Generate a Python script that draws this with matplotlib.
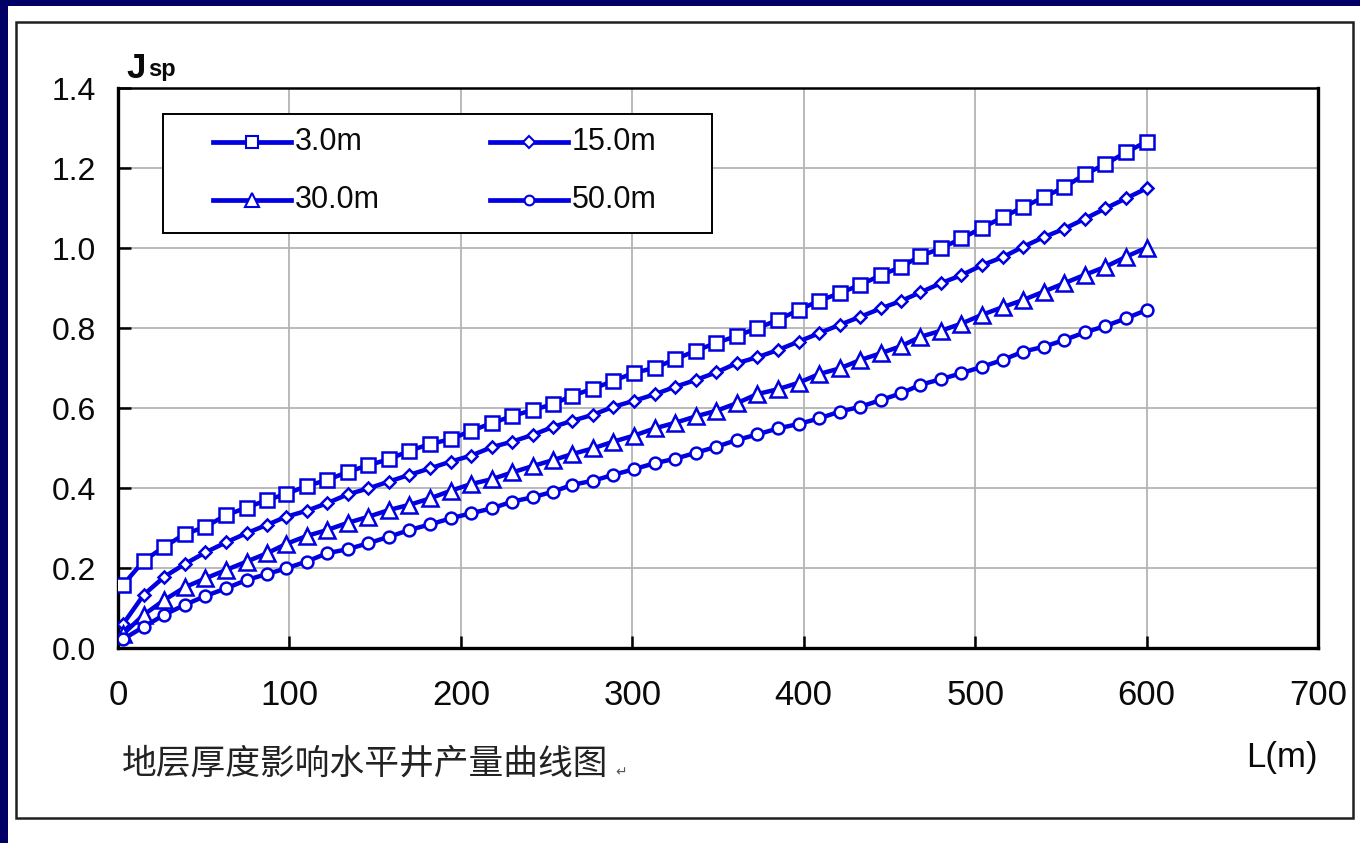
import matplotlib
matplotlib.use("Agg")
import matplotlib.pyplot as plt
from matplotlib.patches import Rectangle
from matplotlib.lines import Line2D

# ---------------- data ----------------
L = [3, 15, 27, 39, 51, 63, 75, 87, 98, 110, 122, 134, 146, 158, 170, 182, 194,
     206, 218, 230, 242, 254, 265, 277, 289, 301, 313, 325, 337, 349, 361, 373,
     385, 397, 409, 421, 433, 445, 457, 468, 480, 492, 504, 516, 528, 540, 552,
     564, 576, 588, 600]

j_3m = [0.158, 0.218, 0.253, 0.285, 0.303, 0.332, 0.351, 0.370, 0.385, 0.405,
        0.420, 0.440, 0.457, 0.472, 0.493, 0.510, 0.522, 0.543, 0.562, 0.580,
        0.595, 0.610, 0.631, 0.648, 0.668, 0.688, 0.700, 0.722, 0.743, 0.763,
        0.780, 0.800, 0.820, 0.845, 0.868, 0.887, 0.908, 0.932, 0.953, 0.980,
        0.999, 1.024, 1.050, 1.077, 1.102, 1.127, 1.152, 1.184, 1.210, 1.239,
        1.266]
j_15m = [0.060, 0.133, 0.178, 0.210, 0.239, 0.264, 0.287, 0.308, 0.328, 0.343,
         0.362, 0.384, 0.399, 0.416, 0.433, 0.449, 0.466, 0.481, 0.502, 0.516,
         0.533, 0.553, 0.568, 0.583, 0.603, 0.618, 0.634, 0.653, 0.670, 0.689,
         0.712, 0.727, 0.745, 0.766, 0.787, 0.808, 0.828, 0.849, 0.868, 0.889,
         0.912, 0.932, 0.957, 0.977, 1.003, 1.027, 1.048, 1.073, 1.099, 1.124,
         1.149]
j_30m = [0.035, 0.083, 0.120, 0.152, 0.174, 0.195, 0.216, 0.237, 0.260, 0.280,
         0.295, 0.313, 0.328, 0.345, 0.358, 0.374, 0.393, 0.410, 0.422, 0.439,
         0.455, 0.470, 0.485, 0.499, 0.516, 0.531, 0.549, 0.563, 0.579, 0.593,
         0.612, 0.635, 0.647, 0.663, 0.685, 0.699, 0.720, 0.737, 0.755, 0.778,
         0.793, 0.811, 0.833, 0.852, 0.870, 0.891, 0.912, 0.933, 0.953, 0.978,
         1.001]
j_50m = [0.022, 0.053, 0.083, 0.108, 0.130, 0.149, 0.170, 0.185, 0.199, 0.216,
         0.237, 0.247, 0.262, 0.278, 0.295, 0.309, 0.324, 0.337, 0.349, 0.366,
         0.377, 0.391, 0.408, 0.418, 0.433, 0.447, 0.462, 0.473, 0.488, 0.503,
         0.520, 0.534, 0.549, 0.560, 0.574, 0.591, 0.603, 0.620, 0.637, 0.658,
         0.672, 0.687, 0.703, 0.720, 0.741, 0.753, 0.770, 0.789, 0.805, 0.824,
         0.845]

series_labels = ["3.0m", "15.0m", "30.0m", "50.0m"]
x_ticks = [0, 100, 200, 300, 400, 500, 600, 700]
y_ticks = [0.0, 0.2, 0.4, 0.6, 0.8, 1.0, 1.2, 1.4]
caption = "地层厚度影响水平井产量曲线图"

# ---------------- style ----------------
W, H = 1360, 843
BLUE = "#0000E0"
NAVY = "#000066"
TXT = "#0a0a0a"
plt.rcParams["font.family"] = ["Liberation Sans", "DejaVu Sans"]

fig = plt.figure(figsize=(W / 100, H / 100), dpi=100)
fig.patch.set_facecolor("white")


def fx(x):
    return x / W


def fy(y):
    return 1 - y / H


# navy border strips (top and left)
fig.patches.append(Rectangle((0, fy(6)), 1, 1 - fy(6), transform=fig.transFigure,
                             facecolor=NAVY, edgecolor="none", zorder=-10))
fig.patches.append(Rectangle((0, 0), fx(8), 1, transform=fig.transFigure,
                             facecolor=NAVY, edgecolor="none", zorder=-10))
# black chart frame
fig.patches.append(Rectangle((fx(16), fy(818)), fx(1353) - fx(16), fy(22) - fy(818),
                             transform=fig.transFigure, facecolor="none",
                             edgecolor="#202020", linewidth=1.8, zorder=-5))

ax = fig.add_axes([fx(118), fy(648), fx(1318) - fx(118), fy(88) - fy(648)])
ax.set_xlim(0, 700)
ax.set_ylim(0, 1.4)

styles = [
    dict(marker="s", markersize=10),
    dict(marker="D", markersize=6.5),
    dict(marker="^", markersize=11),
    dict(marker="o", markersize=8.5),
]
data = [j_3m, j_15m, j_30m, j_50m]
for ys, st, lab in zip(data, styles, series_labels):
    ax.plot(L, ys, color=BLUE, linewidth=3.2, markerfacecolor="white",
            markeredgecolor=BLUE, markeredgewidth=1.8, label=lab, zorder=3, **st)

ax.set_xticks(x_ticks)
ax.set_yticks(y_ticks)
ax.set_xticklabels([str(v) for v in x_ticks], fontsize=25, color=TXT)
ax.set_yticklabels([f"{v:.1f}" for v in y_ticks], fontsize=23, color=TXT)
ax.tick_params(axis="both", direction="in", length=9, width=1.8, color="black")
ax.tick_params(axis="x", pad=22)
ax.tick_params(axis="y", pad=16)
ax.grid(True, color="#b4b4b4", linewidth=1.3)
ax.set_axisbelow(True)
for sp in ax.spines.values():
    sp.set_color("black")
    sp.set_linewidth(1.8)
ax.spines["left"].set_linewidth(2.4)
ax.spines["bottom"].set_linewidth(2.4)
ax.spines["right"].set_linewidth(2.4)

# ---------------- legend (Excel style fixed box) ----------------
def axx(px):
    return (px - 118) / 1200


def axy(py):
    return (648 - py) / 560


ax.add_patch(Rectangle((axx(163), axy(233)), axx(712) - axx(163), axy(114) - axy(233),
                       transform=ax.transAxes, facecolor="white", edgecolor="black",
                       linewidth=1.4, zorder=5))
leg_pos = [(213, 142), (490, 142), (213, 200), (490, 200)]
leg_ms = [8, 6, 9.5, 7]
for (lx, ly), st, lab, ms in zip(leg_pos, styles, series_labels, leg_ms):
    ax.add_line(Line2D([axx(lx), axx(lx + 78)], [axy(ly), axy(ly)],
                       transform=ax.transAxes, color=BLUE, linewidth=3.4, zorder=6))
    ax.add_line(Line2D([axx(lx + 39)], [axy(ly)], transform=ax.transAxes,
                       marker=st["marker"], markersize=ms, markerfacecolor="white",
                       markeredgecolor=BLUE, markeredgewidth=1.5, linestyle="none",
                       zorder=7))
    ax.text(axx(lx + 82), axy(ly), lab, transform=ax.transAxes, fontsize=22,
            ha="left", va="center", color=TXT, zorder=7)

# ---------------- axis titles and caption ----------------
fig.text(fx(126), fy(78), "J", fontsize=25, fontweight="bold", ha="left",
         va="baseline", color=TXT)
fig.text(fx(148), fy(76), "sp", fontsize=17, fontweight="bold", ha="left",
         va="baseline", color=TXT)
fig.text(fx(1318), fy(757), "L(m)", fontsize=25, ha="right", va="center",
         color=TXT)
fig.text(fx(122), fy(764), caption, fontsize=25,
         family=["Noto Sans CJK SC", "DejaVu Sans"], ha="left", va="center",
         color="#222222")
fig.text(fx(615), fy(772), "\u21b5", fontsize=10, family=["DejaVu Sans"],
         ha="left", va="center", color="#555555")

fig.savefig("out.png", dpi=100, facecolor=fig.get_facecolor())
